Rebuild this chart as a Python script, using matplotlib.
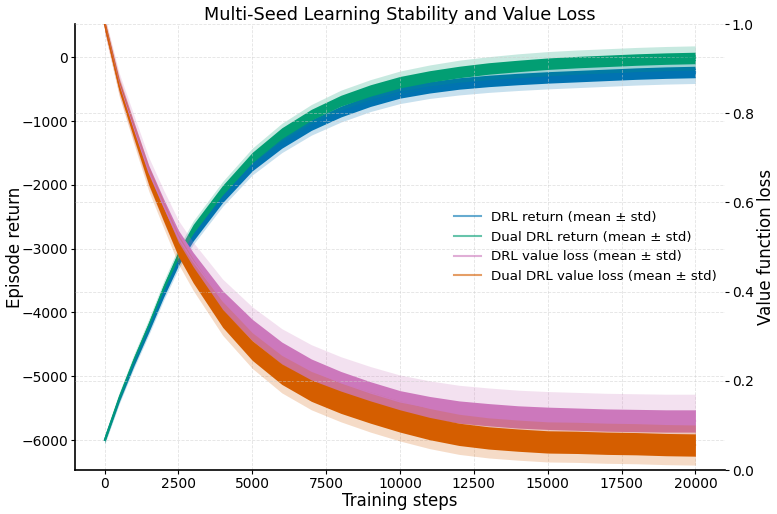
import numpy as np
import matplotlib
matplotlib.use("Agg")
import matplotlib.pyplot as plt
from matplotlib.lines import Line2D

# Training steps at which values were read
steps = [0, 500, 1000, 1500, 2000, 2500, 3000, 4000, 5000, 6000, 7000, 8000,
         9000, 10000, 11000, 12000, 13000, 14000, 15000, 16000, 17000, 18000,
         19000, 20000]

# Episode return (mean)
drl_return = [-6000, -5350, -4780, -4250, -3700, -3200, -2810, -2200, -1700,
              -1340, -1060, -850, -680, -550, -470, -410, -370, -340, -315,
              -295, -275, -255, -240, -230]
dual_return = [-6000, -5330, -4740, -4200, -3620, -3100, -2690, -2080, -1570,
               -1190, -900, -680, -520, -390, -300, -230, -175, -135, -100,
               -75, -55, -35, -20, -10]
# Episode return std across seeds
drl_return_std = [70, 80, 90, 100, 110, 120, 125, 135, 145, 155, 160, 165,
                  170, 175, 175, 180, 180, 180, 180, 180, 180, 180, 180, 180]
dual_return_std = [70, 80, 90, 100, 110, 120, 125, 135, 145, 155, 160, 165,
                   170, 175, 180, 185, 185, 190, 190, 190, 190, 190, 190, 190]
# Visible fluctuation of the mean trace (half width)
drl_return_noise = [40, 45, 50, 55, 60, 65, 70, 75, 80, 85, 85, 85, 90, 90,
                    90, 90, 90, 90, 90, 90, 90, 90, 90, 90]
dual_return_noise = [40, 45, 50, 55, 60, 65, 70, 75, 80, 85, 85, 85, 90, 90,
                     90, 90, 90, 90, 90, 90, 90, 90, 90, 90]

# Value function loss (mean)
drl_loss = [1.0, 0.865, 0.765, 0.668, 0.592, 0.52, 0.468, 0.38, 0.314, 0.262,
            0.224, 0.196, 0.173, 0.153, 0.140, 0.130, 0.124, 0.119, 0.116,
            0.114, 0.112, 0.111, 0.110, 0.110]
dual_loss = [1.0, 0.86, 0.755, 0.653, 0.573, 0.495, 0.438, 0.34, 0.268, 0.215,
             0.178, 0.152, 0.130, 0.110, 0.093, 0.080, 0.072, 0.067, 0.063,
             0.062, 0.060, 0.059, 0.057, 0.056]
drl_loss_std = [0.02, 0.025, 0.03, 0.033, 0.036, 0.04, 0.043, 0.048, 0.052,
                0.055, 0.057, 0.058, 0.059, 0.06, 0.06, 0.06, 0.06, 0.06, 0.06,
                0.06, 0.06, 0.06, 0.06, 0.06]
dual_loss_std = [0.018, 0.022, 0.025, 0.028, 0.03, 0.033, 0.035, 0.038, 0.04,
                 0.042, 0.043, 0.044, 0.045, 0.045, 0.045, 0.045, 0.045, 0.045,
                 0.045, 0.045, 0.045, 0.045, 0.045, 0.045]
drl_loss_noise = [0.01, 0.012, 0.014, 0.015, 0.016, 0.018, 0.02, 0.022, 0.024,
                  0.025, 0.025, 0.025, 0.025, 0.025, 0.025, 0.025, 0.025, 0.025,
                  0.025, 0.025, 0.025, 0.025, 0.025, 0.025]
dual_loss_noise = [0.01, 0.012, 0.013, 0.014, 0.015, 0.016, 0.018, 0.02, 0.022,
                   0.023, 0.024, 0.025, 0.025, 0.025, 0.025, 0.025, 0.025, 0.025,
                   0.025, 0.025, 0.025, 0.025, 0.025, 0.025]

labels = ["DRL return (mean \u00b1 std)", "Dual DRL return (mean \u00b1 std)",
          "DRL value loss (mean \u00b1 std)", "Dual DRL value loss (mean \u00b1 std)"]
colors = ["#0173b2", "#029e73", "#cc78bc", "#d55e00"]

fig = plt.figure(figsize=(7.77, 5.14), dpi=100)
ax = fig.add_axes([0.0965, 0.0856, 0.8365, 0.8674])
ax2 = ax.twinx()

x = np.array(steps)


def draw(axis, mean, std, noise, color):
    m = np.array(mean, dtype=float)
    s = np.array(std, dtype=float)
    n = np.array(noise, dtype=float)
    axis.fill_between(x, m - s, m + s, color=color, alpha=0.22, linewidth=0)
    axis.fill_between(x, m - n, m + n, color=color, alpha=1.0, linewidth=0)
    axis.plot(x, m, color=color, linewidth=1.0)


draw(ax, drl_return, drl_return_std, drl_return_noise, colors[0])
draw(ax, dual_return, dual_return_std, dual_return_noise, colors[1])
draw(ax2, drl_loss, drl_loss_std, drl_loss_noise, colors[2])
draw(ax2, dual_loss, dual_loss_std, dual_loss_noise, colors[3])

ax.set_xlim(-1000, 21000)
ax.set_ylim(-6470, 520)
ax2.set_ylim(0, 1.0)
ax.set_xticks([0, 2500, 5000, 7500, 10000, 12500, 15000, 17500, 20000])
ax.set_yticks([-6000, -5000, -4000, -3000, -2000, -1000, 0])
ax2.set_yticks([0.0, 0.2, 0.4, 0.6, 0.8, 1.0])

for a in (ax, ax2):
    a.grid(True, linestyle="--", linewidth=0.6, color="#cccccc", alpha=0.55)
    a.tick_params(labelsize=10, length=3, pad=2)
    a.spines["top"].set_visible(False)
ax.spines["right"].set_visible(False)
ax2.spines["right"].set_visible(False)
ax2.spines["left"].set_visible(False)
ax2.spines["bottom"].set_visible(False)
ax2.grid(False, axis="x")
ax.spines["left"].set_linewidth(1.2)
ax.spines["bottom"].set_linewidth(1.2)

ax.set_xlabel("Training steps", fontsize=12, labelpad=1)
ax.set_ylabel("Episode return", fontsize=12, labelpad=-2)
ax2.set_ylabel("Value function loss", fontsize=12, labelpad=2)
ax.set_title("Multi-Seed Learning Stability and Value Loss", fontsize=12.7, pad=3)

handles = [Line2D([0], [0], color=c, alpha=0.6, linewidth=1.5) for c in colors]
ax2.legend(handles, labels, loc="center right", frameon=False, fontsize=9.6,
           borderaxespad=0.2)

fig.savefig("out.png", dpi=100)
